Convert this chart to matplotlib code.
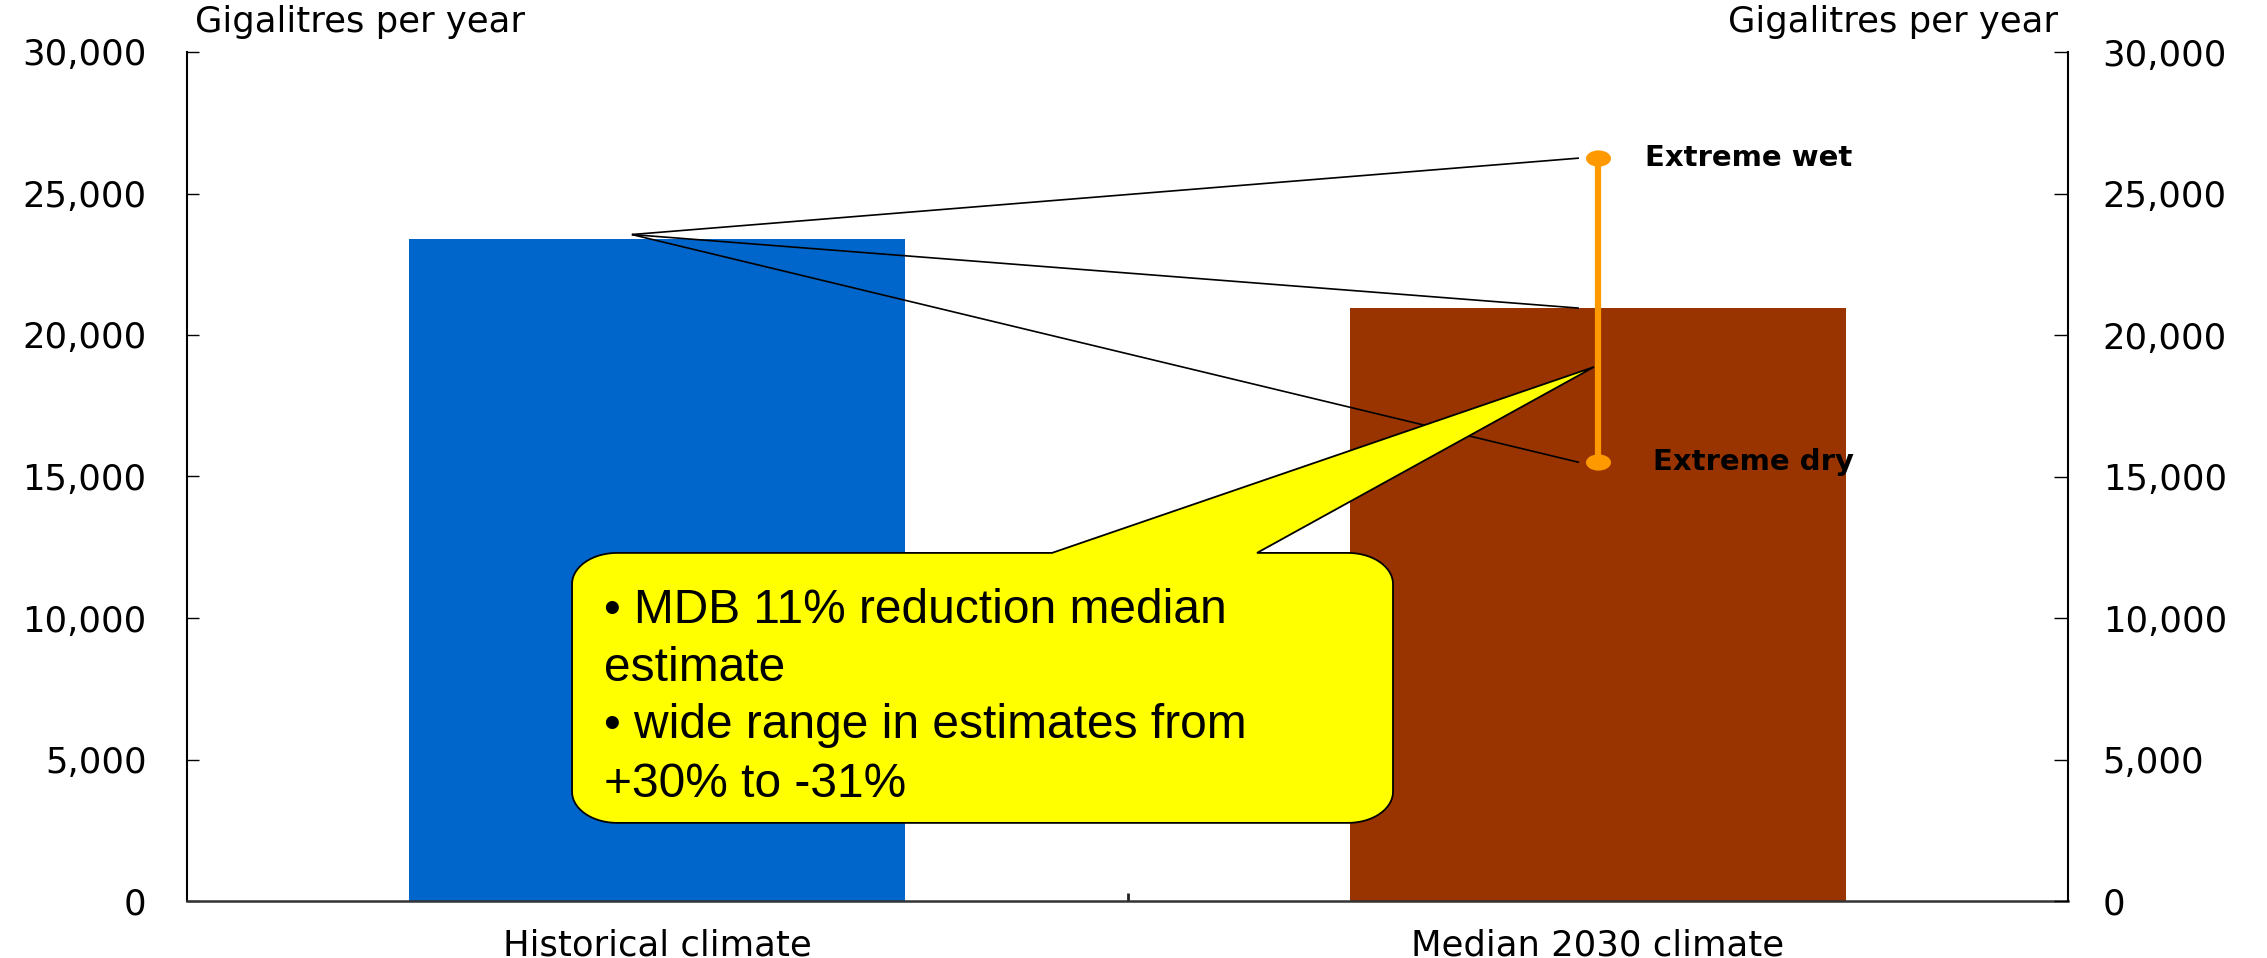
import numpy as np
import matplotlib
matplotlib.use("Agg")
import matplotlib.pyplot as plt
from matplotlib.patches import Polygon
from matplotlib.path import Path
from matplotlib.transforms import Affine2D
from matplotlib.ticker import FuncFormatter, FixedLocator

# ---- data (gigalitres per year) ----
categories = ["Historical climate", "Median 2030 climate"]
inflows = [23400, 20950]
extreme_wet = 26250
extreme_dry = 15500
y_ticks = [0, 5000, 10000, 15000, 20000, 25000, 30000]
callout_lines = ["\u2022 MDB 11% reduction median", "estimate",
                 "\u2022 wide range in estimates from", "+30% to -31%"]

BLUE = "#0066CC"
BROWN = "#993300"
ORANGE = "#FF9900"
YELLOW = "#FFFF00"

plt.rcParams["font.family"] = ["DejaVu Sans"]

fig = plt.figure(figsize=(22.67, 9.58), dpi=100)
ax = fig.add_axes([187 / 2267, 57 / 958, 1881 / 2267, 849 / 958])
ax2 = ax.twinx()

x = np.arange(len(categories))
ax.bar(x, inflows, width=0.527, color=[BLUE, BROWN], zorder=2)

ax.set_xlim(-0.5, 1.5)
for a in (ax, ax2):
    a.set_ylim(0, 30000)
    a.yaxis.set_major_locator(FixedLocator(y_ticks))
    a.yaxis.set_major_formatter(FuncFormatter(lambda v, _: f"{int(v):,}"))

# spines
ax.spines["top"].set_visible(False)
ax.spines["right"].set_visible(False)
ax.spines["left"].set_linewidth(1.5)
ax.spines["bottom"].set_linewidth(1.8)
ax.spines["bottom"].set_color("#333333")
for s in ("top", "left", "bottom"):
    ax2.spines[s].set_visible(False)
ax2.spines["right"].set_linewidth(1.5)

# ticks
ax.set_xticks(x)
ax.set_xticklabels(categories)
ax.tick_params(axis="x", which="major", length=0, pad=19.5, labelsize=25.5)
ax.set_xticks([0.5], minor=True)
ax.tick_params(axis="x", which="minor", direction="in", length=5.8,
               width=2, color="#222222")
ax.tick_params(axis="y", direction="in", length=8.6, width=1, pad=29,
               labelsize=25.5)
ax2.tick_params(axis="y", direction="in", length=10, width=1, pad=25,
                labelsize=25.5)

# fan lines from the historical level to each scenario
fan_x0, fan_x1 = -0.027, 0.98
fan_y0 = inflows[0] + 150
for target in (extreme_wet, inflows[1], extreme_dry):
    ax.plot([fan_x0, fan_x1], [fan_y0, target], color="black", lw=1.2,
            zorder=3, solid_capstyle="butt")

# range of estimates for the 2030 climate
ellipse = Affine2D().scale(1.0, 0.65).transform_path(Path.unit_circle())
ax.plot([x[1], x[1]], [extreme_dry, extreme_wet], color=ORANGE, lw=4.5,
        marker=ellipse, markersize=18, markeredgewidth=0, zorder=4,
        solid_capstyle="butt")
ax.text(1.05, extreme_wet, "Extreme wet", fontsize=21, fontweight="bold",
        va="center", ha="left", zorder=6)
ax.text(1.059, extreme_dry, "Extreme dry", fontsize=21, fontweight="bold",
        va="center", ha="left", zorder=6)

# speech-bubble callout
L, R, T, B = -0.0906, 0.7823, 12300, 2760
rx, ry = 0.048, 1100
wedge_l, wedge_r = 0.4197, 0.6377
tip = (0.996, 18870)


def arc(cx, cy, a0, a1, n=20):
    t = np.linspace(np.radians(a0), np.radians(a1), n)
    return list(zip(cx + rx * np.cos(t), cy + ry * np.sin(t)))


verts = [(L + rx, T), (wedge_l, T), tip, (wedge_r, T), (R - rx, T)]
verts += arc(R - rx, T - ry, 90, 0)
verts += arc(R - rx, B + ry, 0, -90)
verts += arc(L + rx, B + ry, -90, -180)
verts += arc(L + rx, T - ry, 180, 90)
ax.add_patch(Polygon(verts, closed=True, facecolor=YELLOW, edgecolor="black",
                     lw=1.3, zorder=5))

baselines = [9823, 7774, 5760, 3675]
for line, yb in zip(callout_lines, baselines):
    ax.text(-0.0566, yb, line, fontsize=34.5,
            family=["Liberation Sans", "DejaVu Sans"],
            va="baseline", ha="left", zorder=6)

# axis titles
fig.text(195 / 2267, 1 - 32 / 958, "Gigalitres per year", fontsize=25.5,
         ha="left", va="baseline")
fig.text(2058 / 2267, 1 - 32 / 958, "Gigalitres per year", fontsize=25.5,
         ha="right", va="baseline")

fig.savefig("out.png", dpi=100)
